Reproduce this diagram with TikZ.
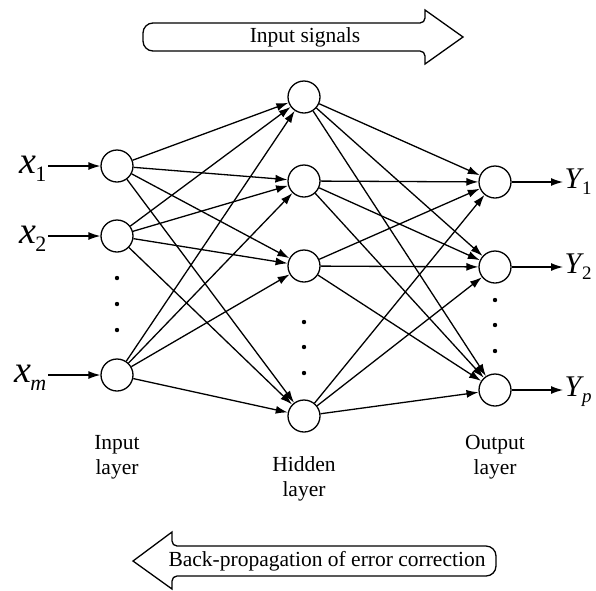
\documentclass[tikz,border=0pt]{standalone}
\usepackage{fontspec}
\setmainfont{Liberation Serif}
\usetikzlibrary{arrows.meta}
\tikzset{
  neuron/.style={draw, circle, minimum size=32pt, inner sep=0pt},
  link/.style={-{Latex[length=12pt,width=8pt]}},
  layertext/.style={align=center, anchor=north, inner sep=0pt}
}
\newcommand{\layerdots}[2]{
  \foreach \y in {#2}
    \fill (#1,\y) circle[radius=2.2pt];
}
\newcommand{\invar}[1]{%
  {\fontsize{38}{38}\selectfont\textit{x}}\kern-1pt\raisebox{-8pt}{\fontsize{22}{22}\selectfont #1}}
\newcommand{\outvar}[1]{%
  {\fontsize{30}{30}\selectfont\textit{Y}}\kern-2pt\raisebox{-6pt}{\fontsize{19}{19}\selectfont #1}}

\begin{document}
\begin{tikzpicture}[x=1pt, y=-1pt, line width=1.3pt, font=\fontsize{21.5}{25}\selectfont]
  \useasboundingbox (0,0) rectangle (596,590);
  % neurons
  \foreach \i/\y in {1/166,2/236,3/375}
    \node[neuron] (in\i) at (117,\y) {};
  \foreach \j/\y in {1/97,2/181,3/266,4/416}
    \node[neuron] (hid\j) at (304,\y) {};
  \foreach \k/\y in {1/182,2/267,3/390}
    \node[neuron] (out\k) at (495,\y) {};
  \layerdots{117}{278,304,330}
  \layerdots{304}{322,347,373}
  \layerdots{495}{300,325,351}
  % weights
  \foreach \i in {1,2,3}
    \foreach \j in {1,...,4}
      \draw[link] (in\i) -- (hid\j);
  \foreach \j in {1,...,4}
    \foreach \k in {1,2,3}
      \draw[link] (hid\j) -- (out\k);
  % inputs, outputs
  \foreach \i/\y/\s in {1/173/1,2/243/2,3/382/{\textit{m}}}{
    \node[anchor=base east, inner sep=1pt] (xin\i) at (48,\y) {\invar{\s}};
    \draw[link] (xin\i.east |- in\i) -- (in\i);
  }
  \foreach \k/\y/\s in {1/188/1,2/273/2,3/396/{\textit{p}}}{
    \node[anchor=base west, inner sep=1pt] (yout\k) at (563,\y) {\outvar{\s}};
    \draw[link] (out\k) -- (yout\k.west |- out\k);
  }
  \node[layertext] (inlab) at (117,435) {Input\\layer};
  \node[layertext] (hidlab) at (304,456) {Hidden\\layer};
  \node[layertext] (outlab) at (495,435) {Output\\layer};
  % big arrows
  \draw (463,37) -- (425,10) [rounded corners=5pt] -- (425,23) [rounded corners=10pt]
    -- (143,23) -- (143,51) [rounded corners=5pt] -- (425,51) [sharp corners] -- (425,64) -- cycle;
  \node (sigtext) at (305,37) {Input signals};
  \draw (133,561) -- (172,532) [rounded corners=5pt] -- (172,546) [rounded corners=10pt]
    -- (496,546) -- (496,576) [rounded corners=5pt] -- (172,576) [sharp corners] -- (172,589) -- cycle;
  \node (bptext) at (327,561) {Back-propagation of error correction};
\end{tikzpicture}
\end{document}
